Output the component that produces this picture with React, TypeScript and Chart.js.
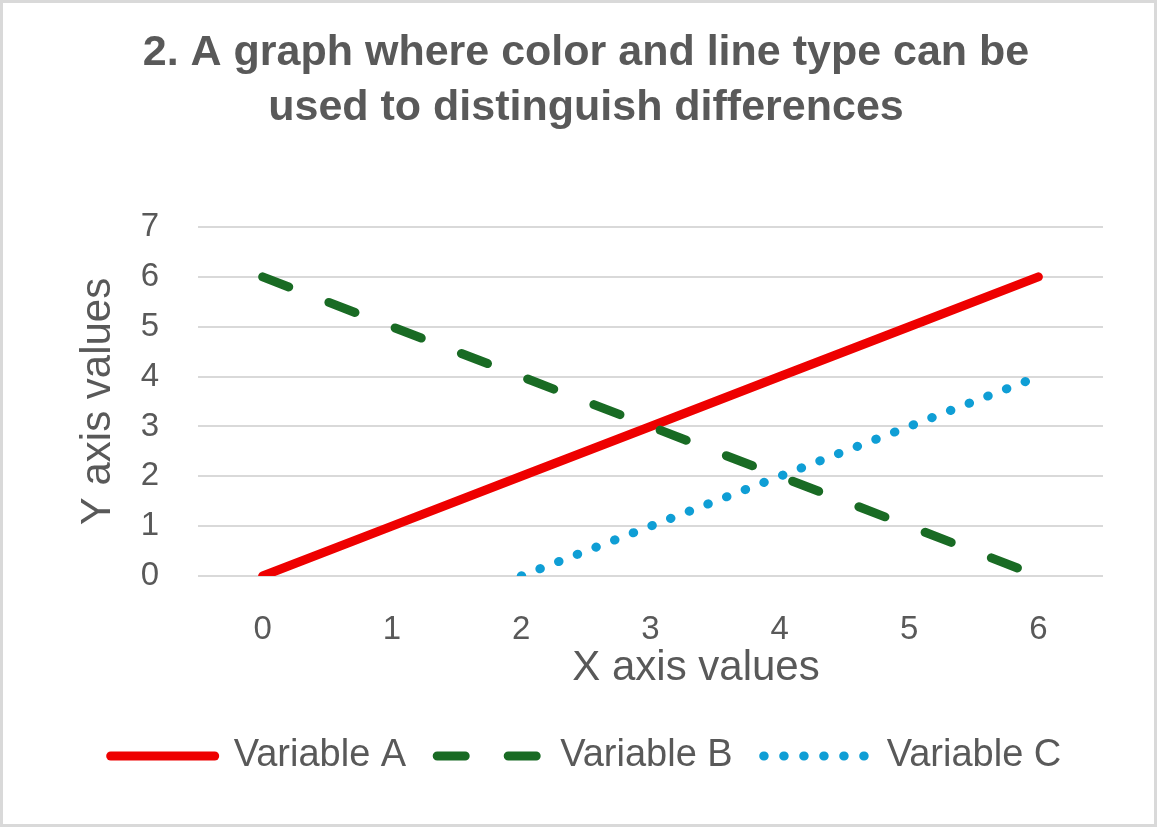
import React, { useEffect, useRef } from "react";
import { Chart, registerables } from "chart.js";

Chart.register(...registerables);

const categories = ["0", "1", "2", "3", "4", "5", "6"];
const variableA = [0, 1, 2, 3, 4, 5, 6];
const variableB = [6, 5, 4, 3, 2, 1, 0];
const variableC = [null, null, 0, 1, 2, 3, 4];
const seriesNames = ["Variable A", "Variable B", "Variable C"];
const titleLines = ["2. A graph where color and line type can be", "used to distinguish differences"];
const xAxisTitle = "X axis values";
const yAxisTitle = "Y axis values";
const yMin = 0;
const yMax = 7;

const TEXT = "#595959";
const FONT = '"Liberation Sans", Arial, sans-serif';

const xTitlePlugin = {
  id: "xTitleOffset",
  afterDraw(chart: any) {
    const { ctx, chartArea, scales } = chart;
    const xs = scales.x;
    ctx.save();
    ctx.font = `42px ${FONT}`;
    ctx.fillStyle = TEXT;
    ctx.textAlign = "center";
    ctx.textBaseline = "middle";
    ctx.fillText(xAxisTitle, (chartArea.left + chartArea.right) / 2 + 45.5, xs.top + 92.4);
    ctx.restore();
  },
};

export default function App() {
  const ref = useRef<HTMLCanvasElement | null>(null);

  useEffect(() => {
    if (!ref.current) return;
    Chart.defaults.font.family = FONT;
    const chart = new Chart(ref.current, {
      type: "line",
      data: {
        labels: categories,
        datasets: [
          {
            label: seriesNames[0],
            data: variableA,
            borderColor: "#EE0000",
            backgroundColor: "#EE0000",
            borderWidth: 9,
            borderCapStyle: "round",
            borderJoinStyle: "round",
            pointRadius: 0,
            tension: 0,
            order: 2,
          },
          {
            label: seriesNames[1],
            data: variableB,
            borderColor: "#196B24",
            backgroundColor: "#196B24",
            borderWidth: 9,
            borderDash: [28, 43],
            borderCapStyle: "round",
            borderJoinStyle: "round",
            pointRadius: 0,
            tension: 0,
            order: 1,
          },
          {
            label: seriesNames[2],
            data: variableC,
            borderColor: "#0F9ED5",
            backgroundColor: "#0F9ED5",
            borderWidth: 9,
            borderDash: [0.5, 19.5],
            borderCapStyle: "round",
            borderJoinStyle: "round",
            pointRadius: 0,
            tension: 0,
            order: 0,
          },
        ],
      },
      options: {
        animation: false,
        responsive: true,
        maintainAspectRatio: false,
        layout: { padding: { left: 66, right: 51, top: 0, bottom: 39 } },
        plugins: {
          tooltip: { enabled: false },
          title: {
            display: true,
            text: titleLines,
            color: TEXT,
            font: { family: FONT, size: 43, weight: "bold", lineHeight: 55 / 43 },
            padding: { top: 23, bottom: 91 },
          },
          legend: {
            display: true,
            position: "bottom",
            labels: {
              color: TEXT,
              font: { family: FONT, size: 38 },
              usePointStyle: true,
              pointStyle: "line",
              pointStyleWidth: 104,
              padding: 31,
              sort: (a: any, b: any) => a.datasetIndex - b.datasetIndex,
              generateLabels: (c: any) => {
                const base = Chart.defaults.plugins.legend.labels.generateLabels(c);
                return base.map((item: any) => {
                  const ds: any = c.data.datasets[item.datasetIndex];
                  return {
                    ...item,
                    strokeStyle: ds.borderColor,
                    fillStyle: ds.borderColor,
                    lineWidth: ds.borderWidth,
                    lineDash: ds.borderDash || [],
                    lineCap: "round",
                    pointStyle: "line",
                  };
                });
              },
            },
          },
        },
        scales: {
          x: {
            type: "category",
            offset: true,
            grid: { display: false, drawTicks: false },
            border: { display: false },
            ticks: { color: TEXT, font: { size: 33 }, padding: 34, maxRotation: 0, autoSkip: false },
            title: { display: false },
            afterFit: (s: any) => {
              s.height = 130;
            },
          },
          y: {
            min: yMin,
            max: yMax,
            grid: { color: "#D9D9D9", lineWidth: 2, drawTicks: false },
            border: { display: false },
            ticks: { stepSize: 1, color: TEXT, font: { size: 33 }, padding: 39, autoSkip: false },
            title: {
              display: true,
              text: yAxisTitle,
              color: TEXT,
              font: { size: 42 },
              padding: { top: 4, bottom: 0 },
            },
            afterFit: (s: any) => {
              s.width = 129;
            },
          },
        },
      },
      plugins: [xTitlePlugin],
    });
    return () => chart.destroy();
  }, []);

  return (
    <div
      style={{
        position: "fixed",
        left: 0,
        top: 0,
        width: 1157,
        height: 827,
        boxSizing: "border-box",
        border: "3px solid #D9D9D9",
        background: "#FFFFFF",
      }}
    >
      <div style={{ position: "relative", width: 1151, height: 821 }}>
        <canvas ref={ref} />
      </div>
    </div>
  );
}
